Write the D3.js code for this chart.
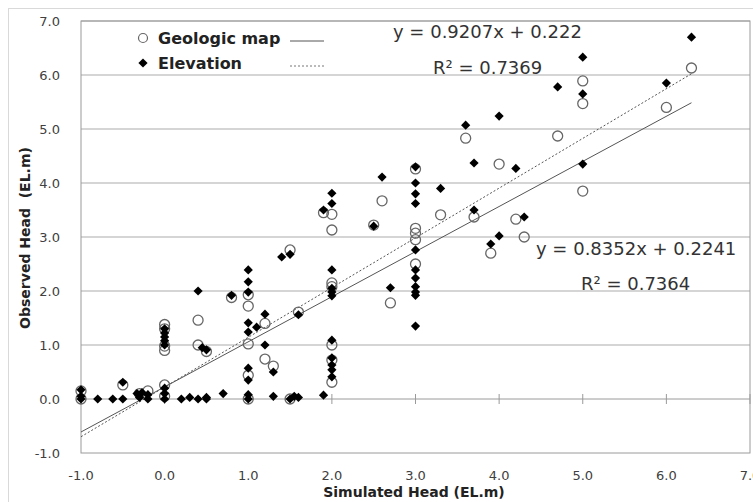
<!DOCTYPE html>
<html>
<head>
<meta charset="utf-8">
<style>
    body { margin: 0; background: white; }
    svg { font-family: "DejaVu Sans", "Noto Sans", sans-serif; }
    .tick-label { font-size: 13px; fill: #404040; }
    .axis-title { font-size: 14px; font-weight: bold; fill: #222; }
    .legend-text { font-size: 16px; font-weight: bold; fill: #222; }
    .eq { font-size: 18px; fill: #333; }
</style>
</head>
<body>
<svg width="753" height="502"></svg>

<script src="https://d3js.org/d3.v7.min.js"></script>
<script>
    // Geologic map (open circles)
    let geoX = [-1.0, -1.0, -0.5, -0.2, -0.3, 0.0, 0.0, 0.0, 0.0, 0.0, 0.0, 0.4, 0.4, 0.5, 0.8,
        1.0, 1.0, 1.0, 1.0, 1.0, 1.2, 1.2, 1.3, 1.5, 1.5, 1.6, 1.9, 2.0, 2.0, 2.0, 2.0, 2.0, 2.0, 2.0,
        2.5, 2.6, 2.7, 3.0, 3.0, 3.0, 3.0, 3.0, 3.3, 3.6, 3.7, 3.9, 4.0, 4.2, 4.3, 4.7, 5.0, 5.0, 5.0, 6.0, 6.3]
    let geoY = [0.15, 0.0, 0.26, 0.15, 0.1, 1.38, 1.3, 0.98, 0.9, 0.26, 0.05, 1.46, 1.0, 0.88, 1.88,
        1.93, 1.72, 1.02, 0.44, 0.0, 1.4, 0.74, 0.61, 2.76, 0.0, 1.61, 3.45, 3.42, 3.13, 2.15, 2.08, 1.0, 0.72, 0.31,
        3.22, 3.67, 1.78, 4.26, 3.16, 3.07, 2.95, 2.5, 3.41, 4.83, 3.37, 2.7, 4.35, 3.33, 3.0, 4.87, 5.89, 5.47, 3.85, 5.4, 6.13]

    // Elevation (filled diamonds)
    let elevX = [-1.0, -1.0, -1.0, -0.8, -0.62, -0.5, -0.5, -0.33, -0.3, -0.27, -0.2, -0.2,
        0.0, 0.0, 0.0, 0.0, 0.0, 0.0, 0.0, 0.0, 0.2, 0.3, 0.4, 0.4, 0.45, 0.5, 0.5, 0.5, 0.7, 0.8,
        1.0, 1.0, 1.0, 1.0, 1.0, 1.0, 1.0, 1.0, 1.0, 1.1, 1.2, 1.2, 1.3, 1.3, 1.5, 1.4, 1.5, 1.55, 1.6, 1.6, 1.9, 1.9,
        2.0, 2.0, 2.0, 2.0, 2.0, 2.0, 2.0, 2.0, 2.0, 2.0, 2.0, 2.5, 2.6, 2.7,
        3.0, 3.0, 3.0, 3.0, 3.0, 3.0, 3.0, 3.0, 3.0, 3.0, 3.0, 3.3, 3.6, 3.7, 3.7, 3.9, 4.0, 4.0, 4.2, 4.3,
        4.7, 5.0, 5.0, 5.0, 6.0, 6.3]
    let elevY = [0.17, 0.05, 0.0, 0.0, 0.0, 0.0, 0.31, 0.1, 0.03, 0.12, 0.0, 0.08,
        1.3, 1.22, 1.15, 1.08, 1.0, 0.2, 0.1, 0.0, 0.0, 0.03, 2.0, 0.0, 0.95, 0.91, 0.03, 0.0, 0.1, 1.92,
        2.39, 2.17, 1.98, 1.41, 1.24, 0.57, 0.35, 0.08, 0.0, 1.33, 1.57, 1.0, 0.5, 0.05, 0.0, 2.63, 2.68, 0.05, 1.56, 0.03, 0.07, 3.5,
        3.81, 3.62, 2.39, 2.05, 1.98, 1.91, 1.09, 0.76, 0.63, 0.54, 0.41, 3.2, 4.11, 2.06,
        4.3, 4.0, 3.8, 3.62, 2.76, 2.39, 2.24, 2.08, 1.98, 1.92, 1.35, 3.9, 5.07, 4.37, 3.5, 2.87, 5.24, 3.02, 4.27, 3.37,
        5.78, 6.33, 5.65, 4.35, 5.85, 6.7]

    // trend lines (slope, intercept) as printed on the chart
    let geoFit = [0.8352, 0.2241]
    let elevFit = [0.9207, 0.222]
    let fitRange = [-1.0, 6.3]

    let xTicks = [-1, 0, 1, 2, 3, 4, 5, 6, 7]
    let yTicks = [-1, 0, 1, 2, 3, 4, 5, 6, 7]

    let svg = d3.select("svg")
    let plotLeft = 81, plotRight = 750, plotTop = 21, plotBottom = 453

    let x = d3.scaleLinear().domain([-1, 7]).range([plotLeft, plotRight])
    let y = d3.scaleLinear().domain([-1, 7]).range([plotBottom, plotTop])

    // outer chart border
    svg.append("rect")
        .attr("x", 8.5).attr("y", 8.5)
        .attr("width", 760).attr("height", 520)
        .style("fill", "none")
        .style("stroke", "#d9d9d9")

    // horizontal gridlines
    svg.selectAll(".grid")
        .data(yTicks.filter(d => d > 0))
        .join("line")
        .attr("x1", plotLeft).attr("x2", plotRight)
        .attr("y1", d => y(d)).attr("y2", d => y(d))
        .style("stroke", "#ababab")
        .style("stroke-width", 1)

    // plot area frame
    svg.append("rect")
        .attr("x", plotLeft).attr("y", plotTop)
        .attr("width", plotRight - plotLeft).attr("height", plotBottom - plotTop)
        .style("fill", "none")
        .style("stroke", "#9a9a9a")

    // x axis along y = 0
    svg.append("line")
        .attr("x1", plotLeft).attr("x2", plotRight)
        .attr("y1", y(0)).attr("y2", y(0))
        .style("stroke", "#9a9a9a")
    svg.selectAll(".xtick")
        .data(xTicks)
        .join("line")
        .attr("x1", d => x(d)).attr("x2", d => x(d))
        .attr("y1", y(0) - 5).attr("y2", y(0) + 5)
        .style("stroke", "#9a9a9a")

    // tick labels
    svg.selectAll(".xlab")
        .data(xTicks)
        .join("text")
        .attr("class", "tick-label")
        .attr("x", d => x(d))
        .attr("y", 480)
        .attr("text-anchor", "middle")
        .text(d => d.toFixed(1))

    svg.selectAll(".ylab")
        .data(yTicks)
        .join("text")
        .attr("class", "tick-label")
        .attr("x", 60)
        .attr("y", d => y(d) + 5)
        .attr("text-anchor", "end")
        .text(d => d.toFixed(1))

    // axis titles
    svg.append("text")
        .attr("class", "axis-title")
        .attr("x", 414).attr("y", 497)
        .attr("text-anchor", "middle")
        .text("Simulated Head (EL.m)")

    svg.append("text")
        .attr("class", "axis-title")
        .attr("transform", "translate(30,238) rotate(-90)")
        .attr("text-anchor", "middle")
        .style("white-space", "pre")
        .text("Observed Head  (EL.m)")

    // trend lines
    let line = d3.line().x(d => x(d[0])).y(d => y(d[1]))
    svg.append("path")
        .attr("d", line(fitRange.map(v => [v, geoFit[0] * v + geoFit[1]])))
        .style("fill", "none")
        .style("stroke", "#555")
        .style("stroke-width", 1)
    svg.append("path")
        .attr("d", line(fitRange.map(v => [v, elevFit[0] * v + elevFit[1]])))
        .style("fill", "none")
        .style("stroke", "#555")
        .style("stroke-width", 1)
        .style("stroke-dasharray", "2,2")

    // points
    let geo = geoX.map((v, i) => [v, geoY[i]])
    let elev = elevX.map((v, i) => [v, elevY[i]])
    let diamond = d3.symbol().type(d3.symbolDiamond2).size(54)

    svg.selectAll(".geo")
        .data(geo)
        .join("circle")
        .attr("cx", d => x(d[0]))
        .attr("cy", d => y(d[1]))
        .attr("r", 5)
        .style("fill", "none")
        .style("stroke", "#666")
        .style("stroke-width", 1.3)

    svg.selectAll(".elev")
        .data(elev)
        .join("path")
        .attr("d", diamond)
        .attr("transform", d => "translate(" + x(d[0]) + "," + y(d[1]) + ")")
        .style("fill", "#000")

    // legend
    svg.append("circle")
        .attr("cx", 143).attr("cy", 38).attr("r", 4.5)
        .style("fill", "none").style("stroke", "#666").style("stroke-width", 1.2)
    svg.append("text").attr("class", "legend-text")
        .attr("x", 158).attr("y", 44).text("Geologic map")
    svg.append("line")
        .attr("x1", 290).attr("x2", 324).attr("y1", 41).attr("y2", 41)
        .style("stroke", "#555")

    svg.append("path")
        .attr("d", diamond)
        .attr("transform", "translate(143,63)")
        .style("fill", "#000")
    svg.append("text").attr("class", "legend-text")
        .attr("x", 158).attr("y", 69).text("Elevation")
    svg.append("line")
        .attr("x1", 290).attr("x2", 324).attr("y1", 66).attr("y2", 66)
        .style("stroke", "#777")
        .style("stroke-dasharray", "2,2")

    // equations
    svg.append("text").attr("class", "eq").attr("x", 393).attr("y", 38)
        .text("y = " + elevFit[0] + "x + " + elevFit[1])
    svg.append("text").attr("class", "eq").attr("x", 433).attr("y", 74)
        .text("R\u00B2 = 0.7369")
    svg.append("text").attr("class", "eq").attr("x", 536).attr("y", 255)
        .text("y = " + geoFit[0] + "x + " + geoFit[1])
    svg.append("text").attr("class", "eq").attr("x", 581).attr("y", 290)
        .text("R\u00B2 = 0.7364")
</script>
</body>
</html>
